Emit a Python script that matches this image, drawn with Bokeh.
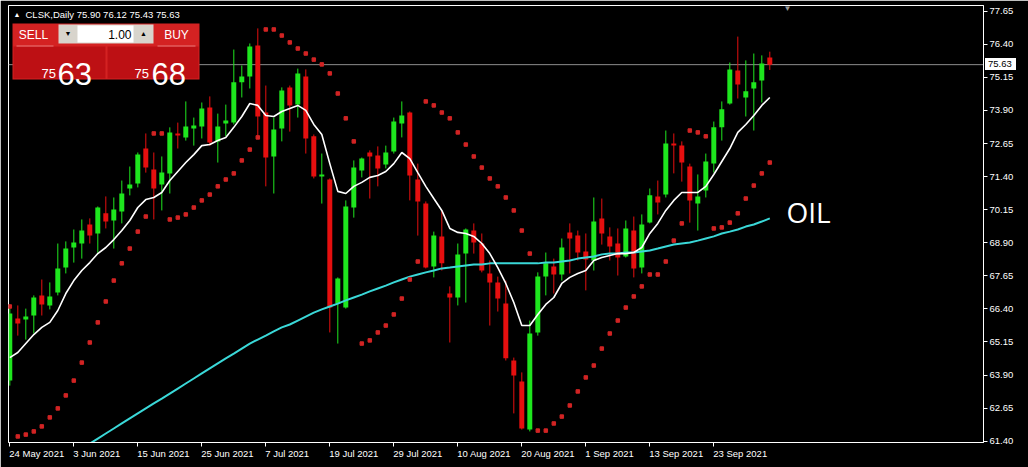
from bokeh.plotting import figure
from bokeh.models import (Range1d, LinearAxis, FixedTicker, PrintfTickFormatter,
                          Label, BoxAnnotation, Span, ColumnDataSource, Div)
from bokeh.embed import file_html
from bokeh.resources import INLINE

# ---------------- data ----------------
symbol = "CLSK,Daily"
dates = ["24 May 2021", "3 Jun 2021", "15 Jun 2021", "25 Jun 2021", "7 Jul 2021",
         "19 Jul 2021", "29 Jul 2021", "10 Aug 2021", "20 Aug 2021", "1 Sep 2021",
         "13 Sep 2021", "23 Sep 2021"]
date_bars = [0, 8, 16, 24, 32, 40, 48, 56, 64, 72, 80, 88]
price_ticks = [61.40, 62.65, 63.90, 65.15, 66.40, 67.65, 68.90, 70.15, 71.40,
               72.65, 73.90, 75.15, 76.40, 77.65]

opens = [63.69, 66.04, 66.00, 66.15, 66.91, 66.53, 67.02, 67.96, 68.72, 68.87,
         69.59, 69.25, 70.01, 69.74, 70.08, 70.95, 71.14, 72.46, 71.67, 71.10,
         71.52, 73.03, 72.88, 73.22, 73.29, 74.01, 72.73, 73.41, 73.44, 74.96,
         75.18, 76.35, 73.82, 72.16, 73.22, 74.77, 74.12, 75.18, 72.92, 71.40,
         71.29, 66.60, 66.45, 70.23, 71.63, 72.31, 72.20, 71.86, 72.35, 73.41,
         73.82, 71.29, 70.38, 68.00, 69.14, 66.98, 66.83, 68.49, 69.36, 68.87,
         67.74, 67.40, 66.60, 64.45, 63.66, 61.84, 65.51, 67.62, 68.00, 67.70,
         69.29, 69.17, 68.57, 68.23, 69.82, 69.14, 68.87, 68.38, 69.36, 67.96,
         69.66, 70.65, 70.72, 72.65, 72.57, 71.78, 70.38, 70.87, 71.89, 73.26,
         74.16, 75.41, 74.39, 74.73, 75.03, 75.90]
highs = [66.41, 66.53, 66.41, 66.91, 67.51, 67.40, 68.87, 68.95, 69.40, 69.78,
         69.82, 70.27, 70.65, 70.61, 71.25, 71.78, 72.31, 73.03, 72.31, 72.16,
         73.26, 73.44, 74.24, 73.63, 74.20, 74.43, 73.78, 74.12, 76.20, 75.60,
         76.43, 77.00, 74.84, 73.63, 74.77, 74.84, 75.48, 75.45, 72.99, 72.27,
         71.33, 67.59, 70.50, 72.01, 72.12, 72.39, 72.54, 72.57, 73.63, 74.24,
         73.86, 71.89, 70.46, 69.32, 70.12, 67.25, 68.87, 69.44, 69.63, 69.25,
         68.23, 67.62, 67.47, 64.56, 64.00, 65.96, 67.78, 68.53, 68.30, 69.06,
         69.63, 69.36, 69.25, 70.61, 70.57, 69.48, 69.44, 69.74, 69.89, 69.97,
         70.95, 71.25, 73.14, 73.03, 72.73, 71.89, 71.48, 72.27, 73.48, 74.24,
         75.71, 76.69, 75.79, 76.05, 75.98, 76.12]
lows = [63.50, 65.39, 65.24, 65.47, 66.15, 66.38, 66.91, 67.74, 68.15, 68.30,
        68.87, 68.49, 69.44, 68.68, 69.63, 70.69, 70.99, 71.55, 69.78, 70.12,
        70.76, 72.46, 72.76, 72.57, 72.84, 72.57, 71.93, 72.92, 73.37, 74.39,
        74.73, 72.84, 71.03, 70.76, 72.73, 73.10, 73.63, 72.27, 71.33, 70.38,
        65.51, 65.09, 66.41, 69.85, 71.37, 70.57, 71.03, 71.71, 72.27, 72.88,
        70.50, 69.17, 67.93, 67.59, 67.85, 65.13, 66.53, 66.64, 68.49, 67.78,
        65.77, 66.30, 64.45, 62.45, 61.84, 61.77, 65.39, 66.91, 66.98, 67.47,
        67.74, 68.23, 67.10, 67.85, 68.83, 68.23, 67.66, 68.34, 67.59, 67.74,
        69.63, 69.97, 70.61, 71.52, 71.21, 69.66, 69.36, 70.61, 71.55, 72.76,
        74.12, 74.35, 73.67, 73.14, 74.20, 75.43]
closes = [66.23, 65.85, 66.11, 66.83, 66.57, 66.87, 67.93, 68.68, 68.91, 69.36,
          69.17, 70.23, 69.70, 70.16, 70.76, 71.10, 72.23, 71.74, 70.95, 71.55,
          73.07, 72.95, 73.29, 73.33, 73.97, 72.69, 73.29, 73.52, 74.96, 75.18,
          76.32, 73.67, 72.12, 73.18, 74.65, 74.09, 75.30, 72.84, 71.40, 71.48,
          66.45, 67.55, 70.27, 71.74, 72.08, 72.16, 71.71, 72.31, 73.48, 73.71,
          71.44, 70.46, 67.96, 69.17, 68.12, 66.83, 68.46, 69.40, 68.91, 67.85,
          67.40, 66.79, 64.53, 63.88, 61.88, 65.47, 67.62, 68.12, 67.70, 68.72,
          69.06, 68.53, 68.27, 69.70, 69.25, 68.76, 68.34, 69.44, 67.93, 69.59,
          70.69, 70.42, 72.65, 72.57, 71.93, 70.50, 70.65, 71.97, 73.26, 73.94,
          75.45, 74.88, 74.62, 74.96, 75.67, 75.63]

ma_fast = [64.56, 64.75, 65.09, 65.43, 65.70, 65.89, 66.34, 66.98, 67.47, 67.85,
           68.15, 68.49, 68.72, 69.02, 69.36, 69.74, 70.23, 70.53, 70.61, 70.80,
           71.25, 71.59, 71.93, 72.23, 72.57, 72.61, 72.76, 72.88, 73.26, 73.67,
           74.16, 74.09, 73.71, 73.67, 73.86, 73.97, 74.09, 73.90, 73.37, 72.99,
           71.89, 70.84, 70.76, 71.03, 71.18, 71.37, 71.44, 71.59, 71.89, 72.31,
           72.08, 71.55, 71.03, 70.57, 70.12, 69.44, 69.29, 69.25, 69.14, 68.87,
           68.49, 67.96, 67.36, 66.64, 65.77, 65.77, 66.19, 66.57, 66.83, 67.36,
           67.59, 67.74, 67.85, 68.23, 68.34, 68.42, 68.49, 68.49, 68.53, 68.72,
           69.25, 69.63, 70.12, 70.50, 70.80, 70.80, 70.80, 71.03, 71.48, 71.97,
           72.46, 73.07, 73.37, 73.71, 74.09, 74.39]
ma_slow_first_bar = 9
ma_slow = [61.12, 61.31, 61.50, 61.69, 61.88, 62.07, 62.26, 62.45, 62.64, 62.83,
           63.01, 63.20, 63.39, 63.58, 63.77, 63.96, 64.15, 64.34, 64.53, 64.71,
           64.90, 65.09, 65.24, 65.39, 65.55, 65.70, 65.81, 65.96, 66.11, 66.26,
           66.38, 66.49, 66.60, 66.72, 66.83, 66.94, 67.06, 67.17, 67.28, 67.40,
           67.51, 67.62, 67.70, 67.78, 67.85, 67.93, 67.96, 68.00, 68.04, 68.08,
           68.08, 68.12, 68.12, 68.12, 68.12, 68.12, 68.12, 68.12, 68.15, 68.15,
           68.19, 68.23, 68.30, 68.34, 68.38, 68.46, 68.49, 68.49, 68.53, 68.53,
           68.57, 68.61, 68.68, 68.76, 68.83, 68.87, 68.91, 68.98, 69.06, 69.14,
           69.25, 69.32, 69.40, 69.51, 69.59, 69.70, 69.82]
sar = [66.49, 61.58, 61.65, 61.77, 61.96, 62.30, 62.64, 63.13, 63.69, 64.37,
       65.13, 65.89, 66.68, 67.47, 68.12, 68.68, 69.32, 69.89, 73.03, 73.03,
       69.78, 69.85, 69.97, 70.23, 70.50, 70.72, 71.03, 71.29, 71.52, 72.01,
       72.42, 72.88, 76.96, 76.96, 76.73, 76.47, 76.24, 76.05, 75.82, 75.64,
       75.30, 74.54, 73.60, 72.73, 65.09, 65.21, 65.51, 65.77, 66.19, 66.79,
       67.51, 68.19, 74.24, 74.09, 73.82, 73.60, 73.07, 72.61, 72.16, 71.74,
       71.33, 71.03, 70.61, 70.12, 69.36, 68.49, 61.80, 61.80, 62.07, 62.33,
       62.75, 63.28, 63.81, 64.26, 64.90, 65.47, 65.96, 66.45, 66.87, 67.25,
       67.70, 67.70, 68.19, 68.98, 69.63, 73.14, 73.07, 72.92, 69.44, 69.48,
       69.66, 70.01, 70.57, 71.06, 71.52, 71.93]
bid_big, bid_small = "63", "75"
ask_big, ask_small = "68", "75"
lot_size = "1.00"
annotation_text = "OIL"

# ---------------- layout helpers (page pixels -> data) ----------------
W, H = 1028, 467
FL, FR, FT, FB = 8, 983, 5, 442          # frame edges in page pixels
PX_PER_BAR = 8.0
X_LO = -0.1625
X_HI = X_LO + (FR - FL) / PX_PER_BAR
PPX = 0.03779                            # price per pixel
P0 = 78.054                              # price at page y = 0
Y_HI = P0 - FT * PPX
Y_LO = P0 - FB * PPX


def dx(px):
    return X_LO + (px - FL) / PX_PER_BAR


def dy(py):
    return P0 - py * PPX


FONT = "Liberation Sans"
GREEN = "#1ee61e"
RED = "#e60f0f"

p = figure(width=W, height=H, output_backend="svg", toolbar_location=None,
           x_range=Range1d(X_LO, X_HI), y_range=Range1d(Y_LO, Y_HI),
           y_axis_location="right",
           min_border_left=FL, min_border_top=FT,
           min_border_right=W - FR, min_border_bottom=H - FB,
           background_fill_color="black", border_fill_color="black",
           outline_line_color="white", outline_line_width=1)
p.grid.visible = False

# right price axis
ya = p.yaxis[0]
ya.ticker = FixedTicker(ticks=price_ticks)
ya.formatter = PrintfTickFormatter(format="%.2f")
ya.major_tick_out = 4
ya.major_tick_in = 0
ya.minor_tick_line_color = None
ya.major_tick_line_color = "white"
ya.axis_line_color = "white"
ya.major_label_standoff = 2
ya.major_label_text_color = "white"
ya.major_label_text_font = FONT
ya.major_label_text_font_size = "9.5px"

# bottom axis: tick marks only
xa = p.xaxis[0]
xa.ticker = FixedTicker(ticks=date_bars)
xa.major_label_overrides = {b: "" for b in date_bars}
xa.major_label_text_font_size = "1px"
xa.major_label_standoff = 0
xa.major_tick_out = 4
xa.major_tick_in = 0
xa.minor_tick_line_color = None
xa.major_tick_line_color = "white"
xa.axis_line_color = "white"

# bottom axis: left-aligned date labels (shifted by half of label width)
CW = {" ": 0.278, "M": 0.833, "J": 0.5, "A": 0.667, "S": 0.667, "a": 0.556,
      "y": 0.5, "u": 0.556, "n": 0.556, "l": 0.222, "g": 0.556, "e": 0.556,
      "p": 0.556}
label_pos = []
for b, d in zip(date_bars, dates):
    wpx = sum(CW.get(ch, 0.556) for ch in d) * 9.5
    label_pos.append(round(b + (wpx / 2.0 - 0.5) / PX_PER_BAR, 4))
xl = LinearAxis(ticker=FixedTicker(ticks=label_pos),
                major_label_overrides={pos: d for pos, d in zip(label_pos, dates)},
                major_tick_out=0, major_tick_in=0, axis_line_color=None,
                minor_tick_line_color=None, major_tick_line_color=None,
                major_label_standoff=1, major_label_text_color="white",
                major_label_text_font=FONT, major_label_text_font_size="9.5px")
p.add_layout(xl, "below")

# current price line
p.add_layout(Span(location=closes[-1], dimension="width", line_color="#8c8c8c",
                  line_width=1, level="underlay"))

# candles
idx = list(range(len(opens)))
src = ColumnDataSource(dict(
    x=idx, o=opens, h=highs, l=lows, c=closes,
    top=[max(a, b) for a, b in zip(opens, closes)],
    bot=[min(a, b) for a, b in zip(opens, closes)],
    col=[GREEN if c >= o else RED for o, c in zip(opens, closes)]))
p.segment(x0="x", y0="l", x1="x", y1="h", line_color="col", line_width=1, source=src)
p.vbar(x="x", width=0.62, top="top", bottom="bot", fill_color="col",
       line_color=None, source=src)

# indicators
p.line(x=list(range(ma_slow_first_bar, ma_slow_first_bar + len(ma_slow))), y=ma_slow,
       line_color="#3ad8d8", line_width=2)
p.line(x=idx, y=ma_fast, line_color="white", line_width=1.6)
p.scatter(x=idx, y=sar, marker="square", size=3.5, fill_color="#d22424",
          line_color="#d22424")


# ---------------- trading panel / texts ----------------
def box(l, r, t, b, color):
    p.add_layout(BoxAnnotation(left=dx(l), right=dx(r), top=dy(t), bottom=dy(b),
                               fill_color=color, fill_alpha=1, line_color=None))


def lab(text, px, py, size, color="white", align="left", baseline="middle",
        font=FONT, **kw):
    p.add_layout(Label(x=dx(px), y=dy(py), text=text, text_font=font,
                       text_font_size=f"{size}px", text_color=color,
                       text_align=align, text_baseline=baseline, **kw))


box(12, 199, 23, 79, "#d42222")
box(13, 105, 46, 78, "#bd1014")
box(107, 198, 46, 78, "#bd1014")
box(16, 53, 45, 46, "#ea7a7a")
box(157, 195, 45, 46, "#ea7a7a")
box(58, 153, 24, 43, "#d8d4cc")
box(77, 133, 25, 42, "#ffffff")

lab("SELL", 33, 34, 12, align="center")
lab("BUY", 176, 34, 12, align="center")
lab("\u25bc", 67.5, 33, 7, color="black", align="center")
lab("\u25b2", 143, 33, 7, color="black", align="center")
lab(lot_size, 131, 33.5, 12, color="black", align="right")
lab(bid_small, 41, 73, 13, baseline="alphabetic")
lab(bid_big, 57, 73, 31, baseline="alphabetic")
lab(ask_small, 134, 73, 13, baseline="alphabetic")
lab(ask_big, 151, 73, 31, baseline="alphabetic")

lab("\u25b2", 13, 14, 7)
lab(f"{symbol}  {opens[-1]:.2f} {highs[-1]:.2f} {lows[-1]:.2f} {closes[-1]:.2f}",
    25, 14, 9.5)
lab("\u25bc", 787, 8, 8, color="#9a9a9a", align="center")
lab(annotation_text, 786, 211, 28, font="Open Sans")

# last price tag on the price scale (outside the frame, so a floating element)
tag_top = round((P0 - closes[-1]) / PPX) - 6
price_tag = Div(text=f"{closes[-1]:.2f}",
                styles={"position": "absolute", "left": "985px", "top": f"{tag_top}px",
                        "width": "31px", "height": "12px", "line-height": "12px",
                        "background-color": "white", "color": "black",
                        "font-family": "'Liberation Sans', sans-serif",
                        "font-size": "9.5px", "padding": "0 0 0 3px",
                        "box-sizing": "border-box", "z-index": "10",
                        "overflow": "hidden", "white-space": "nowrap"})
try:
    p.elements = [price_tag]
except Exception:
    pass

open("out.html", "w").write(file_html(p, INLINE))
